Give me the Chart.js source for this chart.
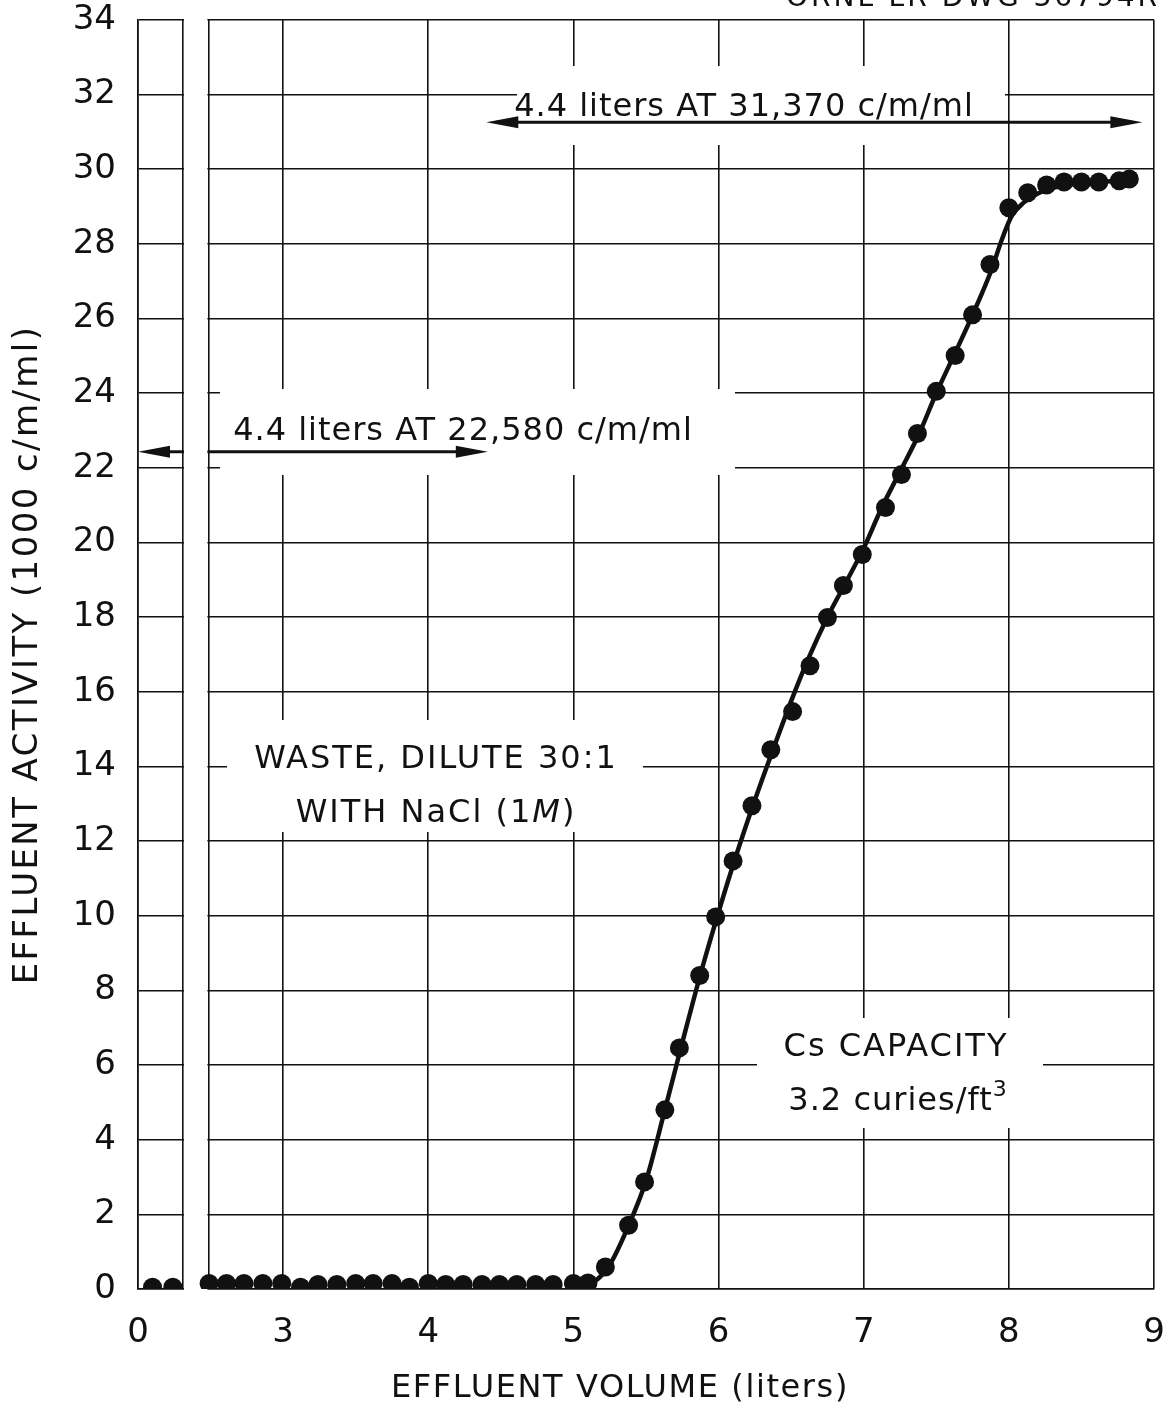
<!DOCTYPE html>
<html>
<head>
<meta charset="utf-8">
<script src="https://cdn.jsdelivr.net/npm/chart.js@4.4.1/dist/chart.umd.min.js"></script>
<style>
  html, body { margin: 0; padding: 0; background: #fff; }
  canvas { display: block; }
</style>
</head>
<body>
<canvas id="chart" width="1172" height="1403"></canvas>
<script>
// Measured points: effluent volume (liters) and activity (1000 c/m/ml)
const volumes = [0.1, 0.24,
  2.49, 2.61, 2.73, 2.86, 2.99, 3.12, 3.24, 3.37, 3.5, 3.62, 3.75, 3.87, 4.0, 4.12, 4.24,
  4.37, 4.49, 4.61, 4.74, 4.86, 5.0, 5.1,
  5.22, 5.38, 5.49, 5.63, 5.73, 5.87, 5.98, 6.1, 6.23, 6.36, 6.51, 6.63, 6.75, 6.86, 6.99,
  7.15, 7.26, 7.37, 7.5, 7.63, 7.75, 7.87, 8.0, 8.13, 8.26, 8.38, 8.5, 8.62, 8.76, 8.83];
const activity = [0.05, 0.05,
  0.15, 0.15, 0.15, 0.15, 0.15, 0.05, 0.12, 0.12, 0.15, 0.15, 0.15, 0.05, 0.15, 0.12, 0.12,
  0.12, 0.12, 0.12, 0.12, 0.12, 0.15, 0.16,
  0.59, 1.71, 2.87, 4.8, 6.46, 8.4, 9.97, 11.47, 12.95, 14.45, 15.47, 16.7, 17.99, 18.85, 19.68,
  20.94, 21.82, 22.92, 24.05, 25.01, 26.1, 27.45, 28.97, 29.37, 29.58, 29.66, 29.66, 29.66, 29.69, 29.74];

// Smooth breakthrough curve drawn through the points
const curveVolumes = [5.05, 5.15, 5.25, 5.38, 5.5, 5.63, 5.75, 5.88, 6.0, 6.12, 6.25, 6.38, 6.5,
  6.62, 6.75, 6.88, 7.0, 7.12, 7.25, 7.38, 7.5, 7.62, 7.75, 7.88, 7.95, 8.02, 8.1, 8.2, 8.3, 8.4,
  8.5, 8.6, 8.7, 8.85];
const curveActivity = [0.12, 0.22, 0.65, 1.7, 2.9, 4.8, 6.6, 8.5, 10.1, 11.6, 13.1, 14.5, 15.75,
  16.9, 18.0, 18.95, 19.85, 20.9, 21.9, 22.9, 24.0, 25.0, 26.1, 27.3, 28.1, 28.75, 29.1, 29.35,
  29.5, 29.58, 29.62, 29.65, 29.68, 29.72];

// x axis is broken: 0..0.31 l shown in a narrow strip, then 2.49..9 l
const xTicks = [2, 2.31, 2.485, 3, 4, 5, 6, 7, 8, 9];
const xTickLabels = ['0', '', '', '3', '4', '5', '6', '7', '8', '9'];
const yTicks = [0, 2, 4, 6, 8, 10, 12, 14, 16, 18, 20, 22, 24, 26, 28, 30, 32, 34];

// arrows: [y, fromX, toX] (axis units)
const arrows = [[31.26, 4.40, 8.92], [22.43, 2.0, 4.41]];

const toAxis = v => v < 1 ? v + 2 : v;
const FONT = '"DejaVu Sans", "Liberation Sans", sans-serif';

function text(ctx, s, x, y, size, align, spacing, style) {
  ctx.font = (style || '') + ' ' + size + 'px ' + FONT;
  ctx.letterSpacing = (spacing || 0) + 'px';
  ctx.textAlign = align || 'center';
  ctx.fillText(s, x, y);
}

// draws runs of [text, size, style, dy] centred at x
function runs(ctx, parts, cx, y, spacing) {
  ctx.letterSpacing = spacing + 'px';
  ctx.textAlign = 'left';
  let w = 0;
  parts.forEach(p => { ctx.font = (p[2] || '') + ' ' + p[1] + 'px ' + FONT; w += ctx.measureText(p[0]).width; });
  let x = cx - w / 2;
  parts.forEach(p => {
    ctx.font = (p[2] || '') + ' ' + p[1] + 'px ' + FONT;
    ctx.fillText(p[0], x, y + (p[3] || 0));
    x += ctx.measureText(p[0]).width;
  });
}

function arrowHead(ctx, x, y, dir) {
  ctx.beginPath();
  ctx.moveTo(x, y);
  ctx.lineTo(x - dir * 32, y - 6);
  ctx.lineTo(x - dir * 32, y + 6);
  ctx.closePath();
  ctx.fill();
}

const annotate = {
  id: 'annotate',
  beforeDatasetsDraw(chart) {
    const { ctx, chartArea: a, scales: { x, y } } = chart;
    ctx.save();
    // white boxes behind the notes
    ctx.fillStyle = '#fff';
    ctx.fillRect(517, 66, 488, 79);
    ctx.fillRect(220, 389, 515, 86);
    ctx.fillRect(227, 720, 416, 112);
    ctx.fillRect(757, 1018, 286, 110);

    ctx.fillStyle = '#111';
    ctx.strokeStyle = '#111';
    ctx.lineWidth = 3;
    arrows.forEach(([v, x0, x1]) => {
      const py = y.getPixelForValue(v);
      const p0 = x.getPixelForValue(x0), p1 = x.getPixelForValue(x1);
      ctx.beginPath();
      ctx.moveTo(p0 + 10, py);
      ctx.lineTo(p1 - 10, py);
      ctx.stroke();
      arrowHead(ctx, p0, py, -1);
      arrowHead(ctx, p1, py, 1);
    });

    ctx.textBaseline = 'alphabetic';
    text(ctx, '4.4 liters AT 31,370 c/m/ml', 744, 116, 32, 'center', 1);
    text(ctx, '4.4 liters AT 22,580 c/m/ml', 463, 440, 32, 'center', 1);
    text(ctx, 'WASTE, DILUTE 30:1', 436, 768, 32, 'center', 2);
    runs(ctx, [['WITH NaCl (1', 32], ['M', 32, 'italic'], [')', 32]], 436, 822, 2);
    text(ctx, 'Cs CAPACITY', 896, 1056, 32, 'center', 2);
    runs(ctx, [['3.2 curies/ft', 32], ['3', 22, '', -14]], 898, 1110, 1);

    // gap of the broken axis
    const g0 = x.getPixelForValue(2.31) + 1, g1 = x.getPixelForValue(2.485) - 1;
    ctx.fillStyle = '#fff';
    ctx.fillRect(g0, a.top - 4, g1 - g0, a.bottom - a.top + 8);
    ctx.restore();
  },
  afterDraw(chart) {
    const { ctx, chartArea: a } = chart;
    ctx.save();
    ctx.fillStyle = '#111';
    ctx.textBaseline = 'alphabetic';
    text(ctx, 'EFFLUENT VOLUME (liters)', 620, 1397, 32, 'center', 1.6);
    ctx.translate(28, (a.top + a.bottom) / 2);
    ctx.rotate(-Math.PI / 2);
    ctx.textBaseline = 'middle';
    text(ctx, 'EFFLUENT ACTIVITY (1000 c/m/ml)', 0, 0, 34, 'center', 2.4);
    ctx.restore();
    ctx.save();
    ctx.fillStyle = '#111';
    text(ctx, 'ORNL-LR-DWG 36794R', 1160, 6, 28, 'right', 3);
    ctx.restore();
  }
};

new Chart(document.getElementById('chart').getContext('2d'), {
  type: 'scatter',
  data: {
    datasets: [{
      label: 'Curve',
      data: curveVolumes.map((v, i) => ({ x: v, y: curveActivity[i] })),
      showLine: true,
      borderColor: '#111',
      borderWidth: 4.5,
      pointRadius: 0,
      cubicInterpolationMode: 'monotone',
      order: 2
    }, {
      label: 'Effluent activity',
      data: volumes.map((v, i) => ({ x: toAxis(v), y: activity[i] })),
      backgroundColor: '#111',
      borderColor: '#111',
      borderWidth: 0,
      pointRadius: 9.5,
      order: 1
    }]
  },
  options: {
    responsive: false,
    animation: false,
    devicePixelRatio: 1,
    layout: { padding: { top: 20, right: 18, left: 0, bottom: 0 } },
    plugins: { legend: { display: false }, tooltip: { enabled: false } },
    scales: {
      x: {
        type: 'linear',
        min: 2,
        max: 9,
        afterBuildTicks: s => { s.ticks = xTicks.map(v => ({ value: v })); },
        afterFit: s => { s.height = 114; s.paddingLeft = 0; s.paddingRight = 0; },
        ticks: {
          autoSkip: false,
          maxRotation: 0,
          padding: 24,
          color: '#111',
          font: { family: FONT, size: 34 },
          callback: v => xTickLabels[xTicks.indexOf(v)] ?? ''
        },
        grid: { color: '#111', lineWidth: 1.6, drawTicks: false },
        border: { color: '#111', width: 1.6 }
      },
      y: {
        min: 0,
        max: 34,
        afterBuildTicks: s => { s.ticks = yTicks.map(v => ({ value: v })); },
        afterFit: s => { s.width = 138; s.paddingTop = 0; s.paddingBottom = 0; },
        ticks: {
          padding: 22,
          color: '#111',
          font: { family: FONT, size: 34 }
        },
        grid: { color: '#111', lineWidth: 1.6, drawTicks: false },
        border: { color: '#111', width: 1.6 }
      }
    }
  },
  plugins: [annotate]
});
</script>
</body>
</html>
